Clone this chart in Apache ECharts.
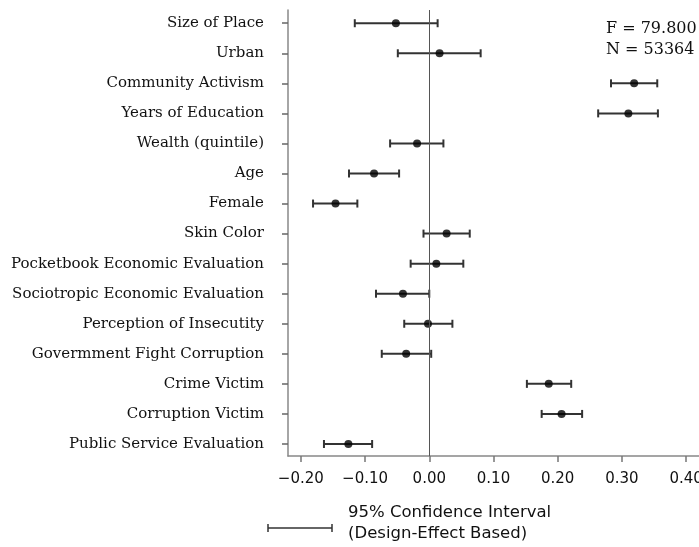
<!DOCTYPE html>
<html>
<head>
<meta charset="utf-8">
<script src="https://cdn.jsdelivr.net/npm/echarts@6/dist/echarts.min.js"></script>
<style>html,body{margin:0;padding:0;background:#fff;overflow:hidden}#c{width:699px;height:547px}</style>
</head>
<body>
<div id="c"></div>
<script>
const categories = ["Size of Place","Urban","Community Activism","Years of Education","Wealth (quintile)","Age","Female","Skin Color","Pocketbook Economic Evaluation","Sociotropic Economic Evaluation","Perception of Insecutity","Govermment Fight Corruption","Crime Victim","Corruption Victim","Public Service Evaluation"];
const estimates = [-0.052,0.016,0.319,0.310,-0.019,-0.086,-0.146,0.027,0.011,-0.041,-0.002,-0.036,0.186,0.206,-0.126];
const lower = [-0.116,-0.049,0.283,0.263,-0.061,-0.125,-0.181,-0.009,-0.029,-0.083,-0.039,-0.074,0.152,0.175,-0.164];
const upper = [0.013,0.080,0.355,0.356,0.022,-0.047,-0.112,0.063,0.053,0.000,0.036,0.003,0.221,0.238,-0.089];
const xTicks = [-0.2,-0.1,0,0.1,0.2,0.3,0.4];
const statsText = ["F = 79.800","N = 53364"];

const idx = categories.map((_, i) => i);
const chart = echarts.init(document.getElementById('c'));
const serif = "DejaVu Serif";
const sans = "DejaVu Sans";
chart.setOption({
  animation: false,
  grid: {left: 288, top: 10, right: 0, bottom: 91, containLabel: false, outerBoundsMode: 'none'},
  xAxis: {
    type: 'value', min: -0.22, max: 0.42,
    axisLine: {show: true, onZero: false, lineStyle: {color: '#888', width: 1.5}},
    axisTick: {show: true, length: 6, lineStyle: {color: '#777', width: 1.5}, customValues: xTicks},
    axisLabel: {customValues: xTicks, margin: 16, color: '#111', fontFamily: sans, fontSize: 15,
      formatter: v => (v < 0 ? '\u2212' : '') + Math.abs(v).toFixed(2)},
    splitLine: {show: false}
  },
  yAxis: {
    type: 'value', inverse: true, min: -0.44, max: 14.4,
    axisLine: {show: true, onZero: false, lineStyle: {color: '#888', width: 1.5}},
    axisTick: {show: true, length: 6, lineStyle: {color: '#666', width: 1.5}, customValues: idx},
    axisLabel: {customValues: idx, margin: 24, color: '#111', fontFamily: serif, fontSize: 15,
      formatter: v => categories[Math.round(v)]},
    splitLine: {show: false}
  },
  series: [
    {
      type: 'custom',
      data: idx.map(i => [lower[i], upper[i], i]),
      renderItem: function (params, api) {
        const a = api.coord([api.value(0), api.value(2)]);
        const b = api.coord([api.value(1), api.value(2)]);
        const h = 4;
        const st = {stroke: '#333', lineWidth: 2};
        return {type: 'group', children: [
          {type: 'line', shape: {x1: a[0], y1: a[1], x2: b[0], y2: b[1]}, style: st},
          {type: 'line', shape: {x1: a[0], y1: a[1]-h, x2: a[0], y2: a[1]+h}, style: st},
          {type: 'line', shape: {x1: b[0], y1: b[1]-h, x2: b[0], y2: b[1]+h}, style: st}
        ]};
      },
      encode: {x: [0, 1], y: 2},
      z: 2
    },
    {
      type: 'scatter',
      data: idx.map(i => [estimates[i], i]),
      symbol: 'circle', symbolSize: 8,
      itemStyle: {color: '#000'},
      z: 3,
      markLine: {
        silent: true, symbol: 'none', label: {show: false},
        lineStyle: {color: '#555', width: 1, type: 'solid'},
        data: [{xAxis: 0}]
      }
    }
  ],
  graphic: [
    {type: 'text', left: 606, top: 18, style: {text: statsText.join('\n'), font: '16px "DejaVu Serif"', fill: '#111', lineHeight: 21}},
    {type: 'line', shape: {x1: 268, y1: 528, x2: 332, y2: 528}, style: {stroke: '#333', lineWidth: 1.5}},
    {type: 'line', shape: {x1: 268, y1: 524, x2: 268, y2: 532}, style: {stroke: '#333', lineWidth: 1.5}},
    {type: 'line', shape: {x1: 332, y1: 524, x2: 332, y2: 532}, style: {stroke: '#333', lineWidth: 1.5}},
    {type: 'text', left: 348, top: 502, style: {text: '95% Confidence Interval\n(Design-Effect Based)', font: '16.5px "DejaVu Sans"', fill: '#111', lineHeight: 21}}
  ]
});
</script>
</body>
</html>
